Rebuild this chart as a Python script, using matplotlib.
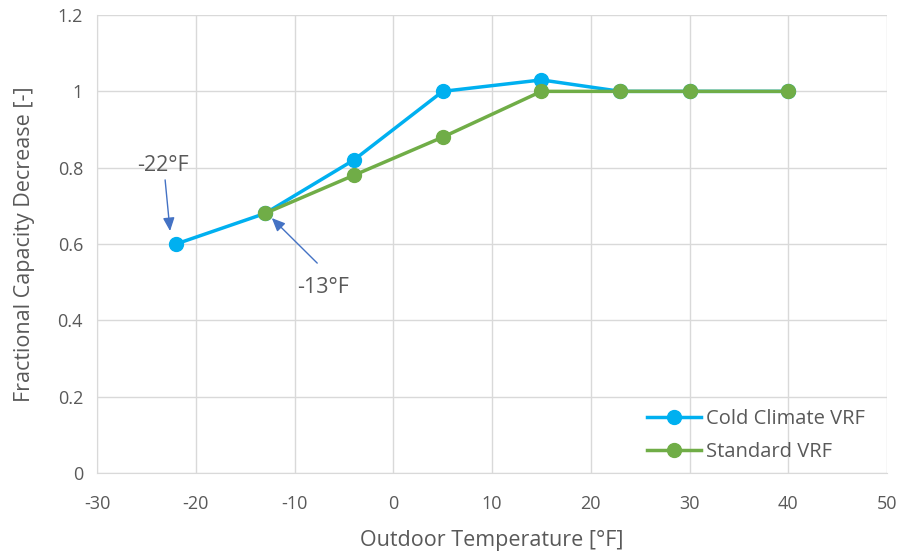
import matplotlib
matplotlib.use("Agg")
import matplotlib.pyplot as plt

cold_x = [-22, -13, -4, 5, 15, 23, 30, 40]
cold_y = [0.6, 0.68, 0.82, 1.0, 1.03, 1.0, 1.0, 1.0]
std_x = [-13, -4, 5, 15, 23, 30, 40]
std_y = [0.68, 0.78, 0.88, 1.0, 1.0, 1.0, 1.0]
xticks = [-30, -20, -10, 0, 10, 20, 30, 40, 50]
yticks = [0, 0.2, 0.4, 0.6, 0.8, 1.0, 1.2]
yticklabels = ["0", "0.2", "0.4", "0.6", "0.8", "1", "1.2"]

plt.rcParams['font.family'] = ['Open Sans', 'DejaVu Sans']
plt.rcParams['axes.unicode_minus'] = False
tc = '#595959'

fig = plt.figure(figsize=(9.02, 5.57), dpi=100)
ax = fig.add_axes([0.1075, 0.1508, 0.876, 0.8222])

ax.plot(cold_x, cold_y, color='#00B0F0', lw=2.5, marker='o', ms=10, label='Cold Climate VRF', zorder=3)
ax.plot(std_x, std_y, color='#70AD47', lw=2.5, marker='o', ms=10, label='Standard VRF', zorder=4)

ax.set_xlim(-30, 50)
ax.set_ylim(0, 1.2)
ax.set_xticks(xticks)
ax.set_yticks(yticks)
ax.set_yticklabels(yticklabels)
ax.grid(True, color='#D9D9D9', lw=1)
ax.set_axisbelow(True)
for s in ['top', 'right']:
    ax.spines[s].set_visible(False)
ax.spines['left'].set_color('#D9D9D9')
ax.spines['bottom'].set_color('#D9D9D9')
ax.tick_params(length=0, labelsize=13, labelcolor=tc)
ax.tick_params(axis='x', pad=16)
ax.tick_params(axis='y', pad=10)

ax.set_xlabel('Outdoor Temperature [°F]', fontsize=15.5, color=tc, labelpad=12)
ax.set_ylabel('Fractional Capacity Decrease [-]', fontsize=15.5, color=tc, labelpad=16)

arrow = dict(arrowstyle='-|>,head_length=0.8,head_width=0.35', color='#4472C4', lw=1, shrinkA=0, shrinkB=0)
ax.text(-23.3, 0.807, '-22°F', fontsize=15.5, color=tc, ha='center', va='center')
ax.annotate('', xy=(-22.6, 0.634), xytext=(-23.1, 0.768), arrowprops=arrow)
ax.annotate('', xy=(-12.3, 0.668), xytext=(-7.7, 0.55), arrowprops=arrow)
ax.text(-7.1, 0.485, '-13°F', fontsize=15.5, color=tc, ha='center', va='center')

leg = ax.legend(loc='lower right', bbox_to_anchor=(0.995, -0.015), frameon=False, fontsize=14.5,
                handlelength=2.7, labelcolor=tc, handletextpad=0.25, labelspacing=0.65)

fig.savefig('out.png', dpi=100)
